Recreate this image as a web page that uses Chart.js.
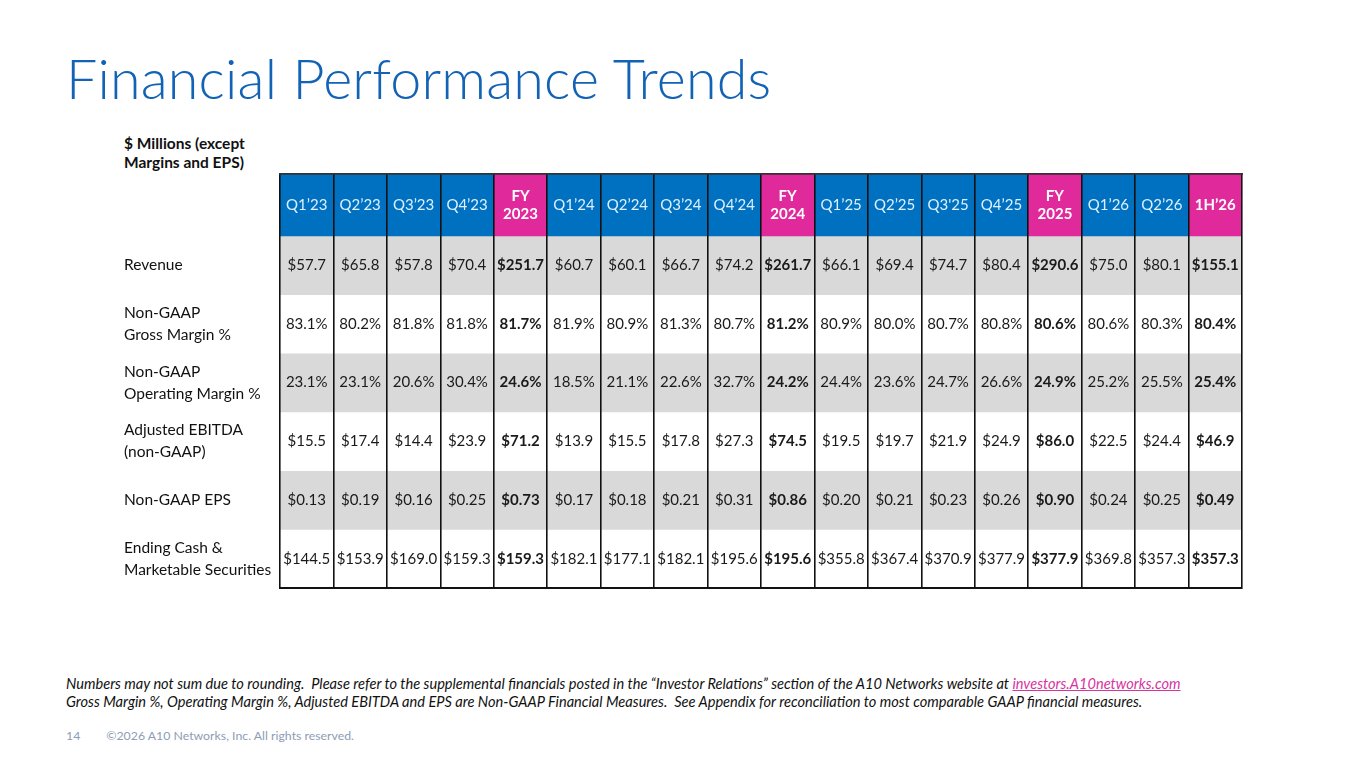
<!DOCTYPE html>
<html>
<head>
<meta charset="utf-8">
<script src="https://cdn.jsdelivr.net/npm/chart.js@4.4.1/dist/chart.umd.min.js"></script>
<style>
  body { margin:0; width:1365px; height:768px; background:#fff; position:relative; overflow:hidden; font-family: Lato, "Open Sans", sans-serif; }
  #title { position:absolute; left:66px; top:44px; font-size:55.6px; font-weight:300; color:#1262b5; white-space:nowrap; letter-spacing:0.2px; }
  #units { position:absolute; left:124px; top:134px; font-size:15.5px; font-weight:bold; line-height:19px; color:#111; }
  #wrap { position:absolute; left:124px; top:170px; width:1122px; height:422px; }
  #notes { position:absolute; left:66px; top:675px; font-size:14.6px; font-style:italic; line-height:17.5px; color:#111; white-space:nowrap; }
  #notes a { color:#d6359f; text-decoration:underline; }
  #foot { position:absolute; left:66px; top:728px; font-size:12.3px; color:#8d9db5; white-space:nowrap; }
  #foot span { margin-left:26px; }
</style>
</head>
<body>
<div id="title">Financial Performance Trends</div>
<div id="units">$ Millions (except<br>Margins and EPS)</div>
<div id="wrap"><canvas id="table"></canvas></div>
<div id="notes">Numbers may not sum due to rounding.&nbsp; Please refer to the supplemental financials posted in the “Investor Relations” section of the A10 Networks website at <a>investors.A10networks.com</a><br>Gross Margin %, Operating Margin %, Adjusted EBITDA and EPS are Non-GAAP Financial Measures.&nbsp; See Appendix for reconciliation to most comparable GAAP financial measures.</div>
<div id="foot">14<span>©2026 A10 Networks, Inc. All rights reserved.</span></div>
<script>
// column headers (FY / half-year totals are the pink ones)
var periods = ['Q1’23','Q2’23','Q3’23','Q4’23','FY\n2023','Q1’24','Q2’24','Q3’24','Q4’24','FY\n2024','Q1’25','Q2’25','Q3\'25','Q4’25','FY\n2025','Q1’26','Q2’26','1H’26'];
var totalCols = [4, 9, 14, 17];

var rowLabels = ['', 'Revenue', ['Non-GAAP','Gross Margin %'], ['Non-GAAP','Operating Margin %'], ['Adjusted EBITDA','(non-GAAP)'], 'Non-GAAP EPS', ['Ending Cash &','Marketable Securities']];

var revenue = [57.7,65.8,57.8,70.4,251.7,60.7,60.1,66.7,74.2,261.7,66.1,69.4,74.7,80.4,290.6,75.0,80.1,155.1];
var grossMargin = [83.1,80.2,81.8,81.8,81.7,81.9,80.9,81.3,80.7,81.2,80.9,80.0,80.7,80.8,80.6,80.6,80.3,80.4];
var opMargin = [23.1,23.1,20.6,30.4,24.6,18.5,21.1,22.6,32.7,24.2,24.4,23.6,24.7,26.6,24.9,25.2,25.5,25.4];
var ebitda = [15.5,17.4,14.4,23.9,71.2,13.9,15.5,17.8,27.3,74.5,19.5,19.7,21.9,24.9,86.0,22.5,24.4,46.9];
var eps = [0.13,0.19,0.16,0.25,0.73,0.17,0.18,0.21,0.31,0.86,0.20,0.21,0.23,0.26,0.90,0.24,0.25,0.49];
var cash = [144.5,153.9,169.0,159.3,159.3,182.1,177.1,182.1,195.6,195.6,355.8,367.4,370.9,377.9,377.9,369.8,357.3,357.3];

var money = function(v){ return '$' + v.toFixed(1); }
var pct = function(v){ return v.toFixed(1) + '%'; }
var money2 = function(v){ return '$' + v.toFixed(2); }

var rows = [
	{vals: revenue, fmt: money},
	{vals: grossMargin, fmt: pct},
	{vals: opMargin, fmt: pct},
	{vals: ebitda, fmt: money},
	{vals: eps, fmt: money2},
	{vals: cash, fmt: money}
];

var BLUE = '#0070c0', PINK = '#e0299b', GRAY = '#d9d9d9';
var HEAD_H = 1.055;   // header row is a bit taller than the body rows

var isTotal = function(i){ return totalCols.indexOf(i) >= 0; }

// stacked datasets, one per table row
var datasets = [];
datasets.push({
	data: periods.map(function(){ return HEAD_H; }),
	backgroundColor: periods.map(function(p, i){ return isTotal(i) ? PINK : BLUE; })
});
rows.forEach(function(r, k){
	datasets.push({
		data: r.vals.map(function(){ return 1; }),
		backgroundColor: k % 2 == 0 ? GRAY : '#ffffff'
	});
});

// middle of each row on the value axis
var rowMid = function(r){ return r == 0 ? HEAD_H / 2 : HEAD_H + r - 0.5; }

var cellText = {
	id: 'cellText',
	afterDraw: function(chart){
		var ctx = chart.ctx;
		var xs = chart.scales.x, ys = chart.scales.y;
		ctx.save();
		ctx.textAlign = 'center';
		ctx.textBaseline = 'middle';
		periods.forEach(function(p, i){
			var x = xs.getPixelForValue(i);
			var y = ys.getPixelForValue(rowMid(0));
			var lines = p.split('\n');
			if (isTotal(i)) {
				ctx.font = 'bold 15px Lato';
				ctx.fillStyle = '#ffffff';
			} else {
				ctx.font = '15px Lato';
				ctx.fillStyle = '#dcf0ff';
			}
			lines.forEach(function(l, j){
				ctx.fillText(l, x, y + (j - (lines.length - 1) / 2) * 18);
			});
			rows.forEach(function(r, k){
				var yy = ys.getPixelForValue(rowMid(k + 1));
				ctx.font = (isTotal(i) ? 'bold ' : '') + '15px Lato';
				ctx.fillStyle = '#1a1a1a';
				ctx.fillText(r.fmt(r.vals[i]), x, yy);
			});
		});
		ctx.restore();
	}
};

var noPad = function(s){ s.paddingTop = 0; s.paddingBottom = 0; s.paddingLeft = 0; s.paddingRight = 0; }

new Chart(document.getElementById('table'), {
	type: 'bar',
	data: { labels: periods, datasets: datasets },
	options: {
		responsive: true,
		maintainAspectRatio: false,
		animation: false,
		events: [],
		layout: { padding: { top: 4, bottom: 4, right: 4, left: 0 } },
		datasets: { bar: { barPercentage: 1, categoryPercentage: 1, borderWidth: 0 } },
		plugins: { legend: { display: false }, tooltip: { enabled: false } },
		scales: {
			x: {
				stacked: true,
				ticks: { display: false },
				border: { display: true, color: '#111', width: 2, z: 1 },
				grid: { offset: true, color: '#111', lineWidth: 1.6, drawTicks: false, z: 1 },
				afterFit: function(s){ s.height = 0; noPad(s); }
			},
			xTop: {
				type: 'category',
				labels: periods,
				position: 'top',
				ticks: { display: false },
				grid: { display: false, drawTicks: false },
				border: { display: true, color: '#333', width: 1.8, z: 1 },
				afterFit: function(s){ s.height = 0; noPad(s); }
			},
			y: {
				stacked: true,
				reverse: true,
				min: 0,
				max: HEAD_H + rows.length,
				border: { display: false },
				grid: { display: false },
				afterBuildTicks: function(s){
					s.ticks = rowLabels.map(function(l, r){ return { value: rowMid(r) }; });
				},
				ticks: {
					autoSkip: false,
					crossAlign: 'far',
					color: '#111',
					font: { family: 'Lato', size: 15.5, lineHeight: 1.42 },
					callback: function(v, i){ return rowLabels[i]; }
				},
				afterFit: function(s){ s.width = 156; noPad(s); }
			}
		}
	},
	plugins: [cellText]
});
</script>
</body>
</html>
